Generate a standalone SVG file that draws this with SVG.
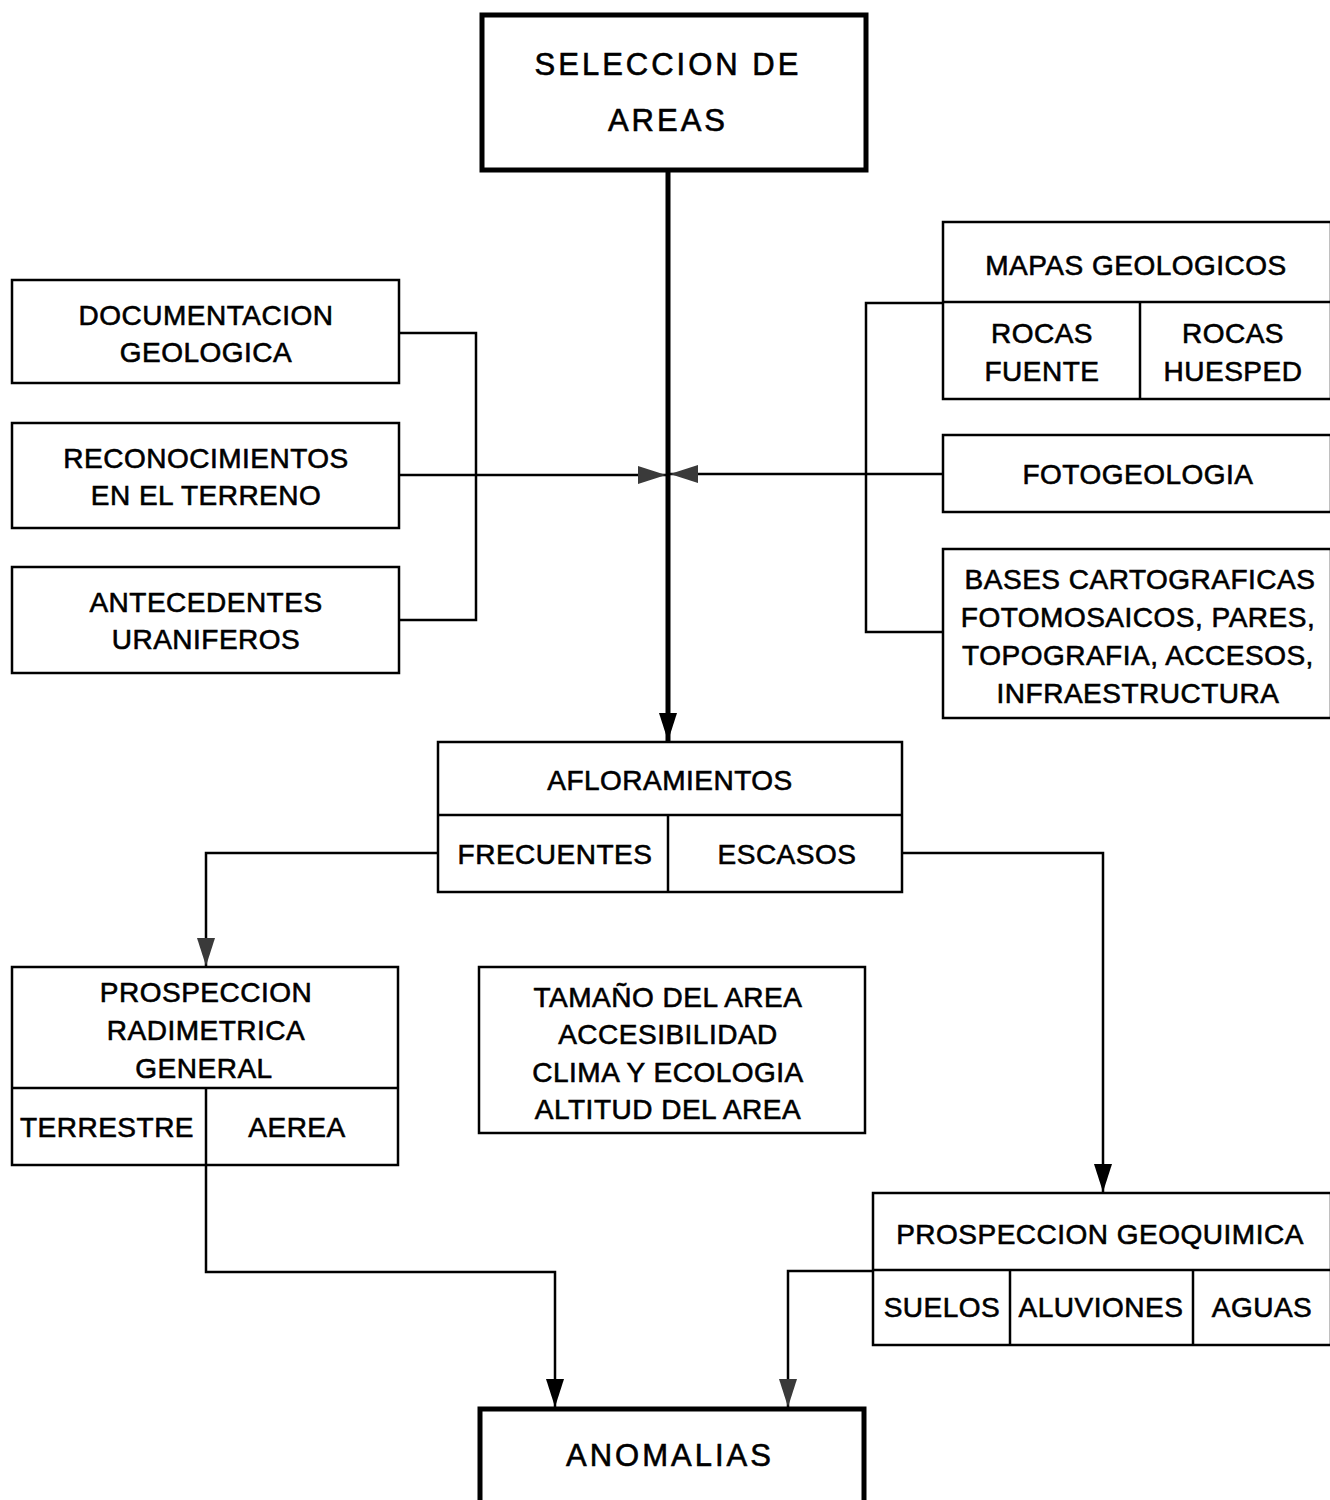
<svg xmlns="http://www.w3.org/2000/svg" width="1330" height="1500" viewBox="0 0 1330 1500">
<style>
.box{fill:#fff;stroke:#000;stroke-width:2.5}
.heavy{fill:#fff;stroke:#000;stroke-width:5}
.div{stroke:#000;stroke-width:2.5;fill:none}
.ln{stroke:#000;stroke-width:2.5;fill:none}
.main{stroke:#000;stroke-width:5;fill:none}
text{font-family:"Liberation Sans","DejaVu Sans",sans-serif;font-size:28px;text-anchor:middle;letter-spacing:0.5px;fill:#000;stroke:#000;stroke-width:0.6}
.big{font-size:31px;letter-spacing:3px}
</style>
<defs>
<marker id="ah" markerUnits="userSpaceOnUse" markerWidth="30" markerHeight="20" refX="28" refY="10" orient="auto" viewBox="0 0 30 20">
<path d="M0,1 L28,10 L0,19 z" fill="#000"/>
</marker>
<marker id="ahs" markerUnits="userSpaceOnUse" markerWidth="30" markerHeight="20" refX="28" refY="10" orient="auto" viewBox="0 0 30 20">
<path d="M0,1 L28,10 L0,19 z" fill="#3a3a3a"/>
</marker>
</defs>

<g id="connectors">
<line class="main" x1="668" y1="170" x2="668" y2="741" marker-end="url(#ah)"/>
<polyline class="ln" points="399,333 476,333 476,620 399,620"/>
<line class="ln" x1="399" y1="475" x2="666" y2="475" marker-end="url(#ahs)"/>
<polyline class="ln" points="943,303 866,303 866,632 943,632"/>
<line class="ln" x1="943" y1="474" x2="670" y2="474" marker-end="url(#ahs)"/>
<polyline class="ln" points="438,853 206,853 206,966" marker-end="url(#ahs)"/>
<polyline class="ln" points="902,853 1103,853 1103,1192" marker-end="url(#ah)"/>
<polyline class="ln" points="206,1165 206,1272 555,1272 555,1407" marker-end="url(#ah)"/>
<polyline class="ln" points="873,1271 788,1271 788,1407" marker-end="url(#ahs)"/>
</g>

<g id="seleccion">
<rect class="heavy" x="482" y="15" width="384" height="155"/>
<text class="big" x="668" y="75">SELECCION DE</text>
<text class="big" x="668" y="131">AREAS</text>
</g>

<g id="documentacion">
<rect class="box" x="12" y="280" width="387" height="103"/>
<text x="206" y="325">DOCUMENTACION</text>
<text x="206" y="362">GEOLOGICA</text>
</g>

<g id="reconocimientos">
<rect class="box" x="12" y="423" width="387" height="105"/>
<text x="206" y="468">RECONOCIMIENTOS</text>
<text x="206" y="505">EN EL TERRENO</text>
</g>

<g id="antecedentes">
<rect class="box" x="12" y="567" width="387" height="106"/>
<text x="206" y="612">ANTECEDENTES</text>
<text x="206" y="649">URANIFEROS</text>
</g>

<g id="mapas">
<rect class="box" x="943" y="222" width="388" height="177"/>
<line class="div" x1="943" y1="302" x2="1331" y2="302"/>
<line class="div" x1="1140" y1="302" x2="1140" y2="399"/>
<text x="1136" y="275">MAPAS GEOLOGICOS</text>
<text x="1042" y="343">ROCAS</text>
<text x="1042" y="381">FUENTE</text>
<text x="1233" y="343">ROCAS</text>
<text x="1233" y="381">HUESPED</text>
</g>

<g id="fotogeologia">
<rect class="box" x="943" y="435" width="388" height="77"/>
<text x="1138" y="484">FOTOGEOLOGIA</text>
</g>

<g id="bases">
<rect class="box" x="943" y="549" width="388" height="169"/>
<text x="1140" y="589">BASES CARTOGRAFICAS</text>
<text x="1138" y="627">FOTOMOSAICOS, PARES,</text>
<text x="1138" y="665">TOPOGRAFIA, ACCESOS,</text>
<text x="1138" y="703">INFRAESTRUCTURA</text>
</g>

<g id="afloramientos">
<rect class="box" x="438" y="742" width="464" height="150"/>
<line class="div" x1="438" y1="815" x2="902" y2="815"/>
<line class="div" x1="668" y1="815" x2="668" y2="892"/>
<text x="670" y="790">AFLORAMIENTOS</text>
<text x="555" y="864">FRECUENTES</text>
<text x="787" y="864">ESCASOS</text>
</g>

<g id="radimetrica">
<rect class="box" x="12" y="967" width="386" height="198"/>
<line class="div" x1="12" y1="1088" x2="398" y2="1088"/>
<line class="div" x1="206" y1="1088" x2="206" y2="1165"/>
<text x="206" y="1002">PROSPECCION</text>
<text x="206" y="1040">RADIMETRICA</text>
<text x="204" y="1078">GENERAL</text>
<text x="107" y="1137">TERRESTRE</text>
<text x="297" y="1137">AEREA</text>
</g>

<g id="tamano">
<rect class="box" x="479" y="967" width="386" height="166"/>
<text x="668" y="1007">TAMAÑO DEL AREA</text>
<text x="668" y="1044">ACCESIBILIDAD</text>
<text x="668" y="1082">CLIMA Y ECOLOGIA</text>
<text x="668" y="1119">ALTITUD DEL AREA</text>
</g>

<g id="geoquimica">
<rect class="box" x="873" y="1193" width="458" height="152"/>
<line class="div" x1="873" y1="1270" x2="1331" y2="1270"/>
<line class="div" x1="1010" y1="1270" x2="1010" y2="1345"/>
<line class="div" x1="1193" y1="1270" x2="1193" y2="1345"/>
<text x="1100" y="1244">PROSPECCION GEOQUIMICA</text>
<text x="942" y="1317">SUELOS</text>
<text x="1101" y="1317">ALUVIONES</text>
<text x="1262" y="1317">AGUAS</text>
</g>

<g id="anomalias">
<rect class="heavy" x="480" y="1409" width="384" height="100"/>
<text class="big" x="670" y="1466">ANOMALIAS</text>
</g>
</svg>
